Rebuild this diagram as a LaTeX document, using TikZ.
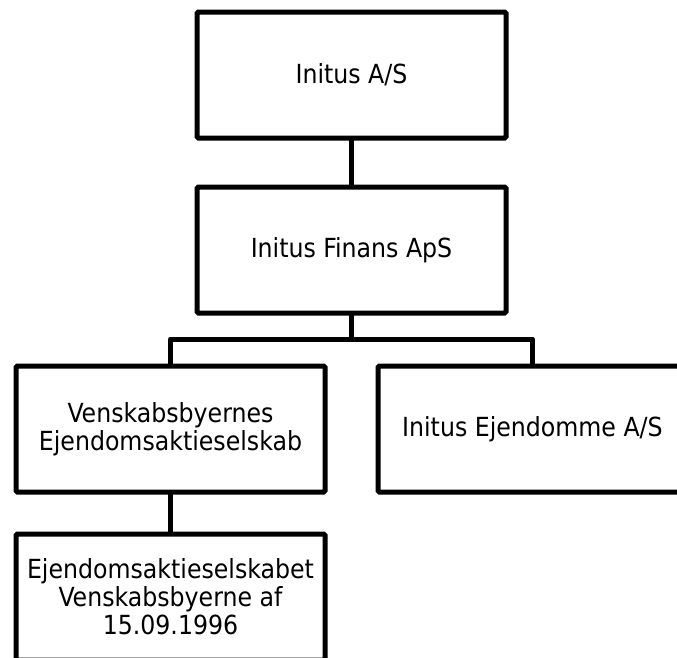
\documentclass[tikz,border=0pt]{standalone}
\usepackage{fontspec}
\setmainfont{DejaVu Sans Condensed}
\begin{document}
\begin{tikzpicture}[x=1pt,y=1pt,
  orgbox/.style={draw=black, line width=5pt, rectangle, rounded corners=1.5pt,
    minimum width=309pt, minimum height=126pt, inner sep=0pt, outer sep=0pt,
    align=center, font=\fontsize{26.3pt}{28pt}\selectfont},
  link/.style={draw=black, line width=5pt}]
\useasboundingbox (0,0) rectangle (677,-657);
\clip (0,0) rectangle (677,-657);
\node[orgbox] (b1) at (351.5,-75) {Initus A/S};
\node[orgbox] (b2) at (351.5,-250) {Initus Finans ApS};
\node[orgbox] (b3) at (170.5,-429) {Venskabsbyernes\\Ejendomsaktieselskab};
\node[orgbox] (b4) at (532.5,-429) {Initus Ejendomme A/S};
\node[orgbox] (b5) at (170.5,-597) {Ejendomsaktieselskabet\\Venskabsbyerne af\\15.09.1996};
\coordinate (bus) at (351.5,-339);
\draw[link] (b1.south) -- (b2.north);
\draw[link] (b2.south) -- (bus);
\draw[link, line join=round] (b3.north) |- (bus) -| (b4.north);
\draw[link] (b3.south) -- (b5.north);
\end{tikzpicture}
\end{document}
